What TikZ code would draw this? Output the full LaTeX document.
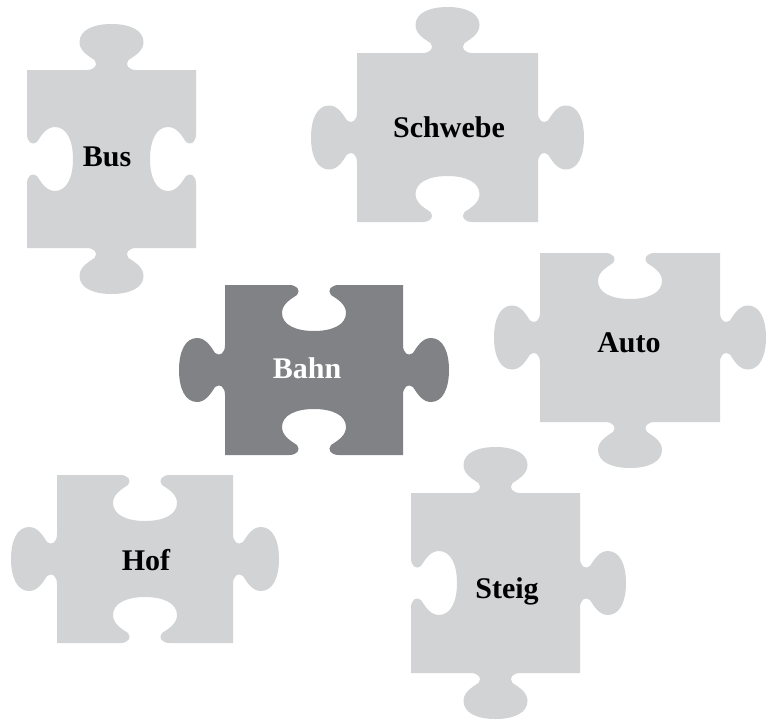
\documentclass[tikz,border=0pt]{standalone}
\usepackage{fontspec}
\setmainfont{Liberation Serif}
\usepackage{tikz}
\usepackage{xcolor}

\definecolor{piecelight}{RGB}{209,211,212}
\definecolor{piecedark}{RGB}{128,130,133}

\tikzset{
    piece w/.store in=\piecew, piece w=88,
    piece h/.store in=\pieceh, piece h=85,
    lightpiece/.style={fill=piecelight},
    darkpiece/.style={fill=piecedark},
    word/.style={anchor=base, font=\fontsize{30}{34}\selectfont\bfseries},
    % one piece: signs of the top, right, bottom and left edge (1 tab, -1 blank)
    pics/puzzle/.style n args={4}{code={
        \path[pic actions]
            (-\piecew,-\pieceh)
            % top edge
            -- (-25,-\pieceh)
            .. controls (-17,-\pieceh) and (-13,{-\pieceh-5*(#1)}) .. (-17,{-\pieceh-10*(#1)})
            .. controls (-25,{-\pieceh-15*(#1)}) and (-32,{-\pieceh-20*(#1)}) .. (-32,{-\pieceh-28*(#1)})
            .. controls (-32,{-\pieceh-40*(#1)}) and (-18,{-\pieceh-46*(#1)}) .. (0,{-\pieceh-46*(#1)})
            .. controls (18,{-\pieceh-46*(#1)}) and (32,{-\pieceh-40*(#1)}) .. (32,{-\pieceh-28*(#1)})
            .. controls (32,{-\pieceh-20*(#1)}) and (25,{-\pieceh-15*(#1)}) .. (17,{-\pieceh-10*(#1)})
            .. controls (13,{-\pieceh-5*(#1)}) and (17,-\pieceh) .. (25,-\pieceh)
            -- (\piecew,-\pieceh)
            % right edge
            -- (\piecew,-25)
            .. controls (\piecew,-17) and ({\piecew+5*(#2)},-13) .. ({\piecew+10*(#2)},-17)
            .. controls ({\piecew+15*(#2)},-25) and ({\piecew+20*(#2)},-32) .. ({\piecew+28*(#2)},-32)
            .. controls ({\piecew+40*(#2)},-32) and ({\piecew+46*(#2)},-18) .. ({\piecew+46*(#2)},0)
            .. controls ({\piecew+46*(#2)},18) and ({\piecew+40*(#2)},32) .. ({\piecew+28*(#2)},32)
            .. controls ({\piecew+20*(#2)},32) and ({\piecew+15*(#2)},25) .. ({\piecew+10*(#2)},17)
            .. controls ({\piecew+5*(#2)},13) and (\piecew,17) .. (\piecew,25)
            -- (\piecew,\pieceh)
            % bottom edge
            -- (25,\pieceh)
            .. controls (17,\pieceh) and (13,{\pieceh+5*(#3)}) .. (17,{\pieceh+10*(#3)})
            .. controls (25,{\pieceh+15*(#3)}) and (32,{\pieceh+20*(#3)}) .. (32,{\pieceh+28*(#3)})
            .. controls (32,{\pieceh+40*(#3)}) and (18,{\pieceh+46*(#3)}) .. (0,{\pieceh+46*(#3)})
            .. controls (-18,{\pieceh+46*(#3)}) and (-32,{\pieceh+40*(#3)}) .. (-32,{\pieceh+28*(#3)})
            .. controls (-32,{\pieceh+20*(#3)}) and (-25,{\pieceh+15*(#3)}) .. (-17,{\pieceh+10*(#3)})
            .. controls (-13,{\pieceh+5*(#3)}) and (-17,\pieceh) .. (-25,\pieceh)
            -- (-\piecew,\pieceh)
            % left edge
            -- (-\piecew,25)
            .. controls (-\piecew,17) and ({-\piecew-5*(#4)},13) .. ({-\piecew-10*(#4)},17)
            .. controls ({-\piecew-15*(#4)},25) and ({-\piecew-20*(#4)},32) .. ({-\piecew-28*(#4)},32)
            .. controls ({-\piecew-40*(#4)},32) and ({-\piecew-46*(#4)},18) .. ({-\piecew-46*(#4)},0)
            .. controls ({-\piecew-46*(#4)},-18) and ({-\piecew-40*(#4)},-32) .. ({-\piecew-28*(#4)},-32)
            .. controls ({-\piecew-20*(#4)},-32) and ({-\piecew-15*(#4)},-25) .. ({-\piecew-10*(#4)},-17)
            .. controls ({-\piecew-5*(#4)},-13) and (-\piecew,-17) .. (-\piecew,-25)
            -- cycle;
    }}
}

\begin{document}
\begin{tikzpicture}[x=1pt, y=-1pt]
    \useasboundingbox (0,0) rectangle (776,724);

    % Pieces
    \pic[lightpiece, piece w=84.5, piece h=89] at (111.5,159) {puzzle={1}{-1}{1}{-1}};
    \pic[lightpiece, piece w=90.5, piece h=84.5] at (447.5,137.5) {puzzle={1}{1}{-1}{1}};
    \pic[darkpiece, piece w=89, piece h=85] at (314,370) {puzzle={-1}{1}{-1}{1}};
    \pic[lightpiece, piece w=90, piece h=84.5] at (630,337.5) {puzzle={-1}{1}{1}{1}};
    \pic[lightpiece, piece w=88, piece h=84] at (145,559) {puzzle={-1}{1}{-1}{1}};
    \pic[lightpiece, piece w=84.5, piece h=90] at (495.5,583) {puzzle={1}{1}{1}{-1}};

    % Labels
    \node[word] (bus) at (107,166) {Bus};
    \node[word] (schwebe) at (449,137) {Schwebe};
    \node[word, white] (bahn) at (307,378) {Bahn};
    \node[word] (auto) at (629,352) {Auto};
    \node[word] (hof) at (146,570) {Hof};
    \node[word] (steig) at (507,598) {Steig};
\end{tikzpicture}
\end{document}
